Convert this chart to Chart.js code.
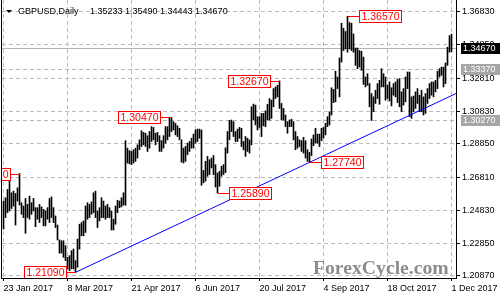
<!DOCTYPE html>
<html>
<head>
<meta charset="utf-8">
<script src="https://cdn.jsdelivr.net/npm/chart.js@4"></script>
<style>
  html, body { margin: 0; padding: 0; background: #fff; }
  canvas { display: block; }
</style>
</head>
<body>
<canvas id="chart" width="500" height="300"></canvas>
<script>
// GBPUSD daily bars, 23 Jan 2017 .. 1 Dec 2017, one row per week
const highs = [
  1.2540, 1.2560, 1.2610, 1.2675, 1.2590,
  1.2600, 1.2586, 1.2620, 1.2706, 1.2530,
  1.2510, 1.2556, 1.2520, 1.2570, 1.2530,
  1.2556, 1.2500, 1.2500, 1.2520, 1.2505,
  1.2490, 1.2480, 1.2500, 1.2556, 1.2565,
  1.2500, 1.2450, 1.2395, 1.2305, 1.2300,
  1.2300, 1.2270, 1.2200, 1.2210, 1.2240,
  1.2250, 1.2180, 1.2310, 1.2400, 1.2410,
  1.2420, 1.2510, 1.2530, 1.2520, 1.2535,
  1.2590, 1.2600, 1.2480, 1.2500, 1.2560,
  1.2540, 1.2510, 1.2520, 1.2500, 1.2480,
  1.2430, 1.2510, 1.2545, 1.2540, 1.2560,
  1.2590, 1.2905, 1.2860, 1.2845, 1.2840,
  1.2850, 1.2860, 1.2880, 1.2910, 1.2965,
  1.2955, 1.2950, 1.2935, 1.2960, 1.2990,
  1.2985, 1.2950, 1.2955, 1.2935, 1.2905,
  1.2935, 1.2990, 1.2990, 1.3047, 1.3045,
  1.3020, 1.3010, 1.2995, 1.2980, 1.2910,
  1.2860, 1.2870, 1.2890, 1.2900, 1.2920,
  1.2945, 1.2970, 1.2975, 1.2975, 1.2970,
  1.2725, 1.2780, 1.2810, 1.2790, 1.2800,
  1.2815, 1.2760, 1.2710, 1.2720, 1.2750,
  1.2760, 1.2862, 1.2960, 1.3028, 1.3030,
  1.3020, 1.2960, 1.2975, 1.2985, 1.2980,
  1.2900, 1.2930, 1.2920, 1.2910, 1.3110,
  1.3126, 1.3120, 1.3050, 1.3050, 1.3070,
  1.3070, 1.3085, 1.3125, 1.3160, 1.3150,
  1.3220, 1.3230, 1.3240, 1.3267, 1.3130,
  1.3100, 1.3060, 1.3020, 1.3030, 1.3035,
  1.3020, 1.2960, 1.2930, 1.2910, 1.2905,
  1.2925, 1.2905, 1.2850, 1.2835, 1.2915,
  1.2940, 1.2980, 1.2945, 1.2945, 1.2980,
  1.2985, 1.3010, 1.3050, 1.3080, 1.3225,
  1.3215, 1.3325, 1.3290, 1.3405, 1.3615,
  1.3585, 1.3565, 1.3657, 1.3620, 1.3615,
  1.3550, 1.3465, 1.3465, 1.3450, 1.3445,
  1.3410, 1.3290, 1.3310, 1.3250, 1.3190,
  1.3170, 1.3210, 1.3250, 1.3270, 1.3340,
  1.3310, 1.3290, 1.3240, 1.3260, 1.3225,
  1.3250, 1.3260, 1.3275, 1.3280, 1.3200,
  1.3220, 1.3290, 1.3320, 1.3320, 1.3170,
  1.3175, 1.3200, 1.3220, 1.3180, 1.3210,
  1.3170, 1.3190, 1.3220, 1.3250, 1.3260,
  1.3260, 1.3270, 1.3325, 1.3340, 1.3350,
  1.3350, 1.3375, 1.3470, 1.3540, 1.3549
];
const lows = [
  1.2371, 1.2440, 1.2470, 1.2480, 1.2495,
  1.2510, 1.2395, 1.2540, 1.2516, 1.2460,
  1.2440, 1.2345, 1.2440, 1.2430, 1.2460,
  1.2480, 1.2385, 1.2430, 1.2410, 1.2440,
  1.2390, 1.2390, 1.2430, 1.2410, 1.2440,
  1.2410, 1.2380, 1.2305, 1.2225, 1.2225,
  1.2200, 1.2180, 1.2130, 1.2120, 1.2130,
  1.2130, 1.2109, 1.2140, 1.2250, 1.2330,
  1.2330, 1.2350, 1.2430, 1.2440, 1.2460,
  1.2470, 1.2440, 1.2380, 1.2420, 1.2440,
  1.2440, 1.2430, 1.2440, 1.2440, 1.2365,
  1.2365, 1.2400, 1.2470, 1.2500, 1.2505,
  1.2515, 1.2515, 1.2770, 1.2765, 1.2760,
  1.2770, 1.2780, 1.2800, 1.2850, 1.2870,
  1.2880, 1.2870, 1.2840, 1.2860, 1.2900,
  1.2910, 1.2880, 1.2900, 1.2840, 1.2840,
  1.2860, 1.2890, 1.2910, 1.2930, 1.2960,
  1.2970, 1.2940, 1.2930, 1.2910, 1.2775,
  1.2770, 1.2780, 1.2820, 1.2840, 1.2860,
  1.2860, 1.2890, 1.2900, 1.2920, 1.2635,
  1.2650, 1.2660, 1.2690, 1.2700, 1.2740,
  1.2700, 1.2625, 1.2589, 1.2630, 1.2690,
  1.2700, 1.2712, 1.2830, 1.2910, 1.2960,
  1.2930, 1.2900, 1.2900, 1.2920, 1.2870,
  1.2850, 1.2810, 1.2840, 1.2830, 1.2880,
  1.3030, 1.3000, 1.2970, 1.2985, 1.2930,
  1.2995, 1.2990, 1.3030, 1.3030, 1.3040,
  1.3110, 1.3160, 1.3170, 1.3100, 1.3030,
  1.3030, 1.2990, 1.2950, 1.2990, 1.2990,
  1.2910, 1.2850, 1.2860, 1.2870, 1.2840,
  1.2830, 1.2800, 1.2780, 1.2774, 1.2815,
  1.2875, 1.2890, 1.2890, 1.2870, 1.2905,
  1.2920, 1.2940, 1.2990, 1.3000, 1.3060,
  1.3135, 1.3140, 1.3220, 1.3170, 1.3380,
  1.3450, 1.3460, 1.3440, 1.3460, 1.3450,
  1.3440, 1.3360, 1.3340, 1.3350, 1.3330,
  1.3245, 1.3230, 1.3240, 1.3110, 1.3027,
  1.3080, 1.3130, 1.3160, 1.3125, 1.3230,
  1.3230, 1.3150, 1.3160, 1.3145, 1.3115,
  1.3180, 1.3170, 1.3135, 1.3110, 1.3080,
  1.3120, 1.3140, 1.3220, 1.3050, 1.3040,
  1.3080, 1.3100, 1.3130, 1.3080, 1.3080,
  1.3060, 1.3070, 1.3130, 1.3160, 1.3180,
  1.3170, 1.3200, 1.3220, 1.3290, 1.3300,
  1.3230, 1.3250, 1.3360, 1.3440, 1.3444
];

// x axis labels (bar index -> date)
const dateTickIdx = [0, 32, 64, 96, 128, 160, 192, 224];
const dateLabels = ['23 Jan 2017', '8 Mar 2017', '21 Apr 2017', '6 Jun 2017',
  '20 Jul 2017', '4 Sep 2017', '18 Oct 2017', '1 Dec 2017'];

// price axis labels
const priceTicks = [1.20870, 1.22850, 1.24830, 1.26810, 1.28850, 1.30830, 1.32810, 1.34850, 1.36830];

// last bar OHLC shown in the header
const lastOHLC = [1.35233, 1.35490, 1.34443, 1.34670];

// swing highs / lows marked with red boxes
const markIdx = [8, 36, 83, 107, 138, 153, 172];
const markPrice = [1.27060, 1.21090, 1.30470, 1.25890, 1.32670, 1.27740, 1.36570];

// horizontal levels: current price, resistance, support
const levelPrice = [1.34670, 1.33370, 1.30270];

// rising trend line from the March low
const trendIdx = [36, 226.25];
const trendPrice = [1.2109, 1.3190];

const font = 'Liberation Sans, Arial, sans-serif';
const gridColor = '#bdbdbd';
const markSide = [-1, -1, -1, 1, -1, 1, 1];
const levelFill = ['#000000', '#a6a6a6', '#a6a6a6'];

const overlay = {
  id: 'overlay',
  beforeDatasetsDraw(chart) {
    const { ctx, chartArea: a, scales: { y } } = chart;
    ctx.save();
    ctx.lineWidth = 1;
    ctx.strokeStyle = '#b4b4b4';
    levelPrice.forEach((p, k) => {
      const py = Math.round(y.getPixelForValue(p)) + 0.5;
      ctx.setLineDash(k === 0 ? [] : [4, 3]);
      ctx.beginPath();
      ctx.moveTo(a.left, py);
      ctx.lineTo(a.right, py);
      ctx.stroke();
    });
    ctx.restore();
  },
  afterDraw(chart) {
    const { ctx, chartArea: a, scales: { x, y } } = chart;
    ctx.save();

    // left frame
    ctx.strokeStyle = '#000';
    ctx.lineWidth = 1;
    ctx.beginPath();
    ctx.moveTo(a.left - 0.5, a.top);
    ctx.lineTo(a.left - 0.5, a.bottom + 1);
    ctx.stroke();

    // watermark
    ctx.fillStyle = '#8c8c8c';
    ctx.font = 'bold 19.7px Liberation Serif, Times New Roman, serif';
    ctx.textBaseline = 'alphabetic';
    ctx.textAlign = 'left';
    ctx.fillText('ForexCycle.com', 313, 273.5);

    // header
    ctx.fillStyle = '#000';
    ctx.beginPath();
    ctx.moveTo(6, 10);
    ctx.lineTo(12, 10);
    ctx.lineTo(9, 13);
    ctx.closePath();
    ctx.fill();
    ctx.font = '9px ' + font;
    ctx.fillText('GBPUSD,Daily', 18, 14);
    ctx.fillText(lastOHLC.map(v => v.toFixed(5)).join(' '), 90, 14);

    // swing marks
    ctx.save();
    ctx.beginPath();
    ctx.rect(a.left, a.top, a.right - a.left, a.bottom - a.top);
    ctx.clip();
    ctx.font = '10.5px ' + font;
    markIdx.forEach((idx, k) => {
      const bx = Math.round(x.getPixelForValue(idx));
      const py = Math.round(y.getPixelForValue(markPrice[k])) + 0.5;
      const txt = markPrice[k].toFixed(5);
      const w = Math.round(ctx.measureText(txt).width) + 4;
      const side = markSide[k];
      const edge = side > 0 ? bx + 11 : bx - 10;
      const left = side > 0 ? edge : edge - w;
      ctx.strokeStyle = '#ff0000';
      ctx.beginPath();
      ctx.moveTo(bx, py);
      ctx.lineTo(edge, py);
      ctx.stroke();
      ctx.fillStyle = '#fff';
      ctx.fillRect(left + 0.5, py - 6, w, 12);
      ctx.strokeRect(left + 0.5, py - 6, w, 12);
      ctx.fillStyle = '#ff0000';
      ctx.textAlign = 'center';
      ctx.textBaseline = 'middle';
      ctx.fillText(txt, left + 0.5 + w / 2, py + 0.5);
    });
    ctx.restore();

    // price boxes on the right axis
    ctx.font = '9px ' + font;
    ctx.textAlign = 'left';
    ctx.textBaseline = 'middle';
    levelPrice.forEach((p, k) => {
      const py = Math.round(y.getPixelForValue(p));
      ctx.fillStyle = levelFill[k];
      ctx.fillRect(461, py - 5, 39, 11);
      ctx.fillStyle = '#fff';
      ctx.fillText(p.toFixed(5), 463, py + 0.5);
    });
    ctx.restore();
  }
};

const bars = highs.map((h, i) => ({ x: i, y: [lows[i], h] }));

new Chart(document.getElementById('chart'), {
  type: 'bar',
  data: {
    datasets: [
      {
        type: 'line',
        data: trendIdx.map((v, k) => ({ x: v, y: trendPrice[k] })),
        borderColor: '#0000ff',
        borderWidth: 1,
        pointRadius: 0,
        fill: false
      },
      {
        data: bars,
        backgroundColor: '#000',
        borderWidth: 0,
        barThickness: 1
      }
    ]
  },
  options: {
    responsive: false,
    animation: false,
    devicePixelRatio: 1,
    layout: { padding: { left: 2, top: 0, right: 0, bottom: 0 } },
    plugins: { legend: { display: false }, tooltip: { enabled: false } },
    scales: {
      x: {
        type: 'linear',
        min: -0.75,
        max: 226.25,
        bounds: 'data',
        offset: false,
        grid: { offset: false, color: gridColor, tickLength: 3, tickColor: '#000' },
        border: { color: '#000', dash: [4, 3] },
        ticks: {
          autoSkip: false,
          maxRotation: 0,
          align: 'start',
          padding: 2,
          color: '#000',
          font: { family: font, size: 9 },
          callback: (v, idx) => dateLabels[idx]
        },
        afterBuildTicks: s => { s.ticks = dateTickIdx.map(v => ({ value: v })); },
        afterFit: s => { s.height = 22; s.paddingLeft = 0; s.paddingRight = 0; }
      },
      y: {
        position: 'right',
        min: 1.20748,
        max: 1.37555,
        bounds: 'data',
        grid: { color: gridColor, tickLength: 4, tickColor: '#000' },
        border: { color: '#000', dash: [4, 3] },
        ticks: {
          autoSkip: false,
          padding: 2,
          color: '#000',
          font: { family: font, size: 9 },
          callback: v => v.toFixed(5)
        },
        afterBuildTicks: s => { s.ticks = priceTicks.map(v => ({ value: v })); },
        afterFit: s => { s.width = 44; s.paddingTop = 0; s.paddingBottom = 0; }
      }
    }
  },
  plugins: [overlay]
});
</script>
</body>
</html>
